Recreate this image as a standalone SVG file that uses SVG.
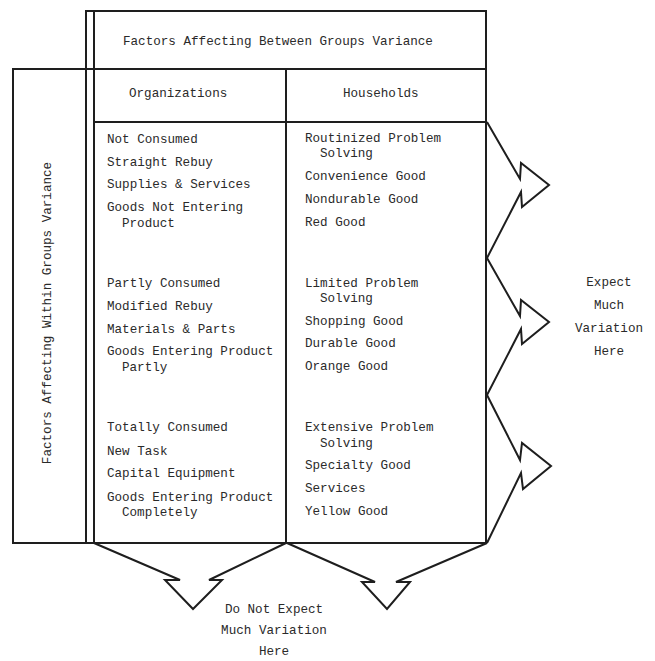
<svg xmlns="http://www.w3.org/2000/svg" width="655" height="661" viewBox="0 0 655 661">
<style>
.ln{fill:none;stroke:#1e1e1e;stroke-width:2;stroke-linejoin:miter}
.t{font-family:"Liberation Mono","DejaVu Sans Mono",monospace;font-size:12.6px;fill:#2a2a2a}
.c{text-anchor:middle}
</style>
<rect width="655" height="661" fill="#fff"/>
<g id="frame">
<polyline class="ln" points="86,543 86,11 486,11 486,543"/>
<line class="ln" x1="94" y1="11" x2="94" y2="543"/>
<polyline class="ln" points="86,543 13,543 13,69 486,69"/>
<line class="ln" x1="94" y1="122" x2="486" y2="122"/>
<line class="ln" x1="286" y1="69" x2="286" y2="543"/>
<line class="ln" x1="86" y1="543" x2="487" y2="543"/>
</g>
<g id="between-header">
<text class="t" x="123" y="45">Factors Affecting Between Groups Variance</text>
</g>
<g id="within-header">
<text class="t c" x="0" y="0" font-size="12.2" transform="translate(51,313) rotate(-90)">Factors Affecting Within Groups Variance</text>
</g>
<g id="organizations">
<text class="t" x="129" y="97">Organizations</text>
<text class="t" x="107" y="143">Not Consumed</text>
<text class="t" x="107" y="166">Straight Rebuy</text>
<text class="t" x="107" y="188">Supplies &amp; Services</text>
<text class="t" x="107" y="211">Goods Not Entering</text>
<text class="t" x="122" y="227">Product</text>
<text class="t" x="107" y="287">Partly Consumed</text>
<text class="t" x="107" y="310">Modified Rebuy</text>
<text class="t" x="107" y="333">Materials &amp; Parts</text>
<text class="t" x="107" y="355">Goods Entering Product</text>
<text class="t" x="122" y="371">Partly</text>
<text class="t" x="107" y="431">Totally Consumed</text>
<text class="t" x="107" y="455">New Task</text>
<text class="t" x="107" y="477">Capital Equipment</text>
<text class="t" x="107" y="501">Goods Entering Product</text>
<text class="t" x="122" y="516">Completely</text>
</g>
<g id="households">
<text class="t" x="343" y="97">Households</text>
<text class="t" x="305" y="142">Routinized Problem</text>
<text class="t" x="320" y="157">Solving</text>
<text class="t" x="305" y="180">Convenience Good</text>
<text class="t" x="305" y="203">Nondurable Good</text>
<text class="t" x="305" y="226">Red Good</text>
<text class="t" x="305" y="287">Limited Problem</text>
<text class="t" x="320" y="302">Solving</text>
<text class="t" x="305" y="325">Shopping Good</text>
<text class="t" x="305" y="347">Durable Good</text>
<text class="t" x="305" y="370">Orange Good</text>
<text class="t" x="305" y="431">Extensive Problem</text>
<text class="t" x="320" y="447">Solving</text>
<text class="t" x="305" y="469">Specialty Good</text>
<text class="t" x="305" y="492">Services</text>
<text class="t" x="305" y="515">Yellow Good</text>
</g>
<g id="connectors">
<polyline class="ln" points="487,122 520,179 521,163 549,185 522,207 521,192 487,258"/>
<polyline class="ln" points="487,258 520,316 521,300 549,322 522,344 521,329 487,395"/>
<polyline class="ln" points="487,395 520,460 522,443 551,466 523,489 521,473 487,543"/>
<polyline class="ln" points="94,543 180,580 165,580 193,609 222,580 209,580 286,543"/>
<polyline class="ln" points="287,543 375,582 362,582 387,609 410,582 396,582 487,543"/>
</g>
<g id="much-variation">
<text class="t c" x="609" y="286">Expect</text>
<text class="t c" x="609" y="309">Much</text>
<text class="t c" x="609" y="332">Variation</text>
<text class="t c" x="609" y="355">Here</text>
</g>
<g id="no-variation">
<text class="t c" x="274" y="613">Do Not Expect</text>
<text class="t c" x="274" y="634">Much Variation</text>
<text class="t c" x="274" y="655">Here</text>
</g>
</svg>
